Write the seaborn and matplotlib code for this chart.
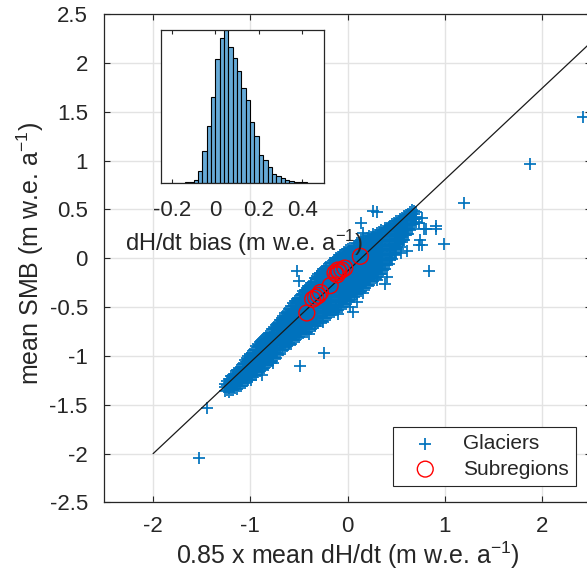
import numpy as np
import pandas as pd
import matplotlib
matplotlib.use("Agg")
import matplotlib.pyplot as plt
from matplotlib.ticker import FuncFormatter
import seaborn as sns

# ---------------- data ----------------
# dense glacier band: one column of y values per x position
band_x = [-1.26, -1.22, -1.18, -1.14, -1.10, -1.06, -1.02, -0.98, -0.94, -0.90,
          -0.86, -0.82, -0.78, -0.74, -0.70, -0.66, -0.62, -0.58, -0.54, -0.50,
          -0.46, -0.42, -0.38, -0.34, -0.30, -0.26, -0.22, -0.18, -0.14, -0.10,
          -0.06, -0.02, 0.02, 0.06, 0.10, 0.14, 0.18, 0.22, 0.26, 0.30,
          0.34, 0.38, 0.42, 0.46, 0.50, 0.54, 0.58, 0.62, 0.66, 0.70]
band_y = [
    [-1.36, -1.32, -1.29],
    [-1.37, -1.33, -1.28, -1.24],
    [-1.35, -1.31, -1.26, -1.22, -1.19],
    [-1.34, -1.29, -1.24, -1.19, -1.14],
    [-1.31, -1.26, -1.21, -1.16, -1.11],
    [-1.28, -1.23, -1.18, -1.13, -1.08, -1.04],
    [-1.25, -1.20, -1.15, -1.10, -1.05, -1.00],
    [-1.22, -1.17, -1.12, -1.07, -1.02, -0.97],
    [-1.19, -1.14, -1.09, -1.04, -0.99, -0.94, -0.90],
    [-1.15, -1.10, -1.05, -1.00, -0.95, -0.90, -0.86],
    [-1.12, -1.07, -1.02, -0.97, -0.92, -0.87, -0.82],
    [-1.09, -1.04, -0.99, -0.94, -0.89, -0.84, -0.78],
    [-1.05, -1.00, -0.95, -0.90, -0.85, -0.80, -0.76, -0.72],
    [-1.02, -0.97, -0.92, -0.87, -0.82, -0.77, -0.72, -0.68],
    [-0.98, -0.93, -0.88, -0.83, -0.78, -0.73, -0.68, -0.63],
    [-0.94, -0.89, -0.84, -0.79, -0.74, -0.69, -0.64, -0.59],
    [-0.90, -0.85, -0.80, -0.75, -0.70, -0.65, -0.60, -0.55],
    [-0.88, -0.83, -0.78, -0.73, -0.68, -0.63, -0.58, -0.53, -0.49],
    [-0.84, -0.79, -0.74, -0.69, -0.64, -0.59, -0.54, -0.49, -0.44],
    [-0.81, -0.76, -0.71, -0.66, -0.61, -0.56, -0.51, -0.46, -0.41],
    [-0.77, -0.72, -0.67, -0.62, -0.57, -0.52, -0.47, -0.42, -0.37, -0.34],
    [-0.75, -0.70, -0.65, -0.60, -0.55, -0.50, -0.45, -0.40, -0.35, -0.30],
    [-0.72, -0.67, -0.62, -0.57, -0.52, -0.47, -0.42, -0.37, -0.32, -0.27, -0.25],
    [-0.69, -0.64, -0.59, -0.54, -0.49, -0.44, -0.39, -0.34, -0.29, -0.24, -0.20],
    [-0.66, -0.61, -0.56, -0.51, -0.46, -0.41, -0.36, -0.31, -0.26, -0.21, -0.16],
    [-0.64, -0.59, -0.54, -0.49, -0.44, -0.39, -0.34, -0.29, -0.24, -0.19, -0.13],
    [-0.61, -0.56, -0.51, -0.46, -0.41, -0.36, -0.31, -0.26, -0.21, -0.16, -0.11, -0.09],
    [-0.58, -0.53, -0.48, -0.43, -0.38, -0.33, -0.28, -0.23, -0.18, -0.13, -0.08, -0.05],
    [-0.55, -0.50, -0.45, -0.40, -0.35, -0.30, -0.25, -0.20, -0.15, -0.10, -0.05, -0.02],
    [-0.53, -0.48, -0.43, -0.38, -0.33, -0.28, -0.23, -0.18, -0.13, -0.08, -0.03, 0.01],
    [-0.50, -0.45, -0.40, -0.35, -0.30, -0.25, -0.20, -0.15, -0.10, -0.05, 0.00, 0.04],
    [-0.47, -0.42, -0.37, -0.32, -0.27, -0.22, -0.17, -0.12, -0.07, -0.02, 0.03, 0.08],
    [-0.43, -0.38, -0.33, -0.28, -0.23, -0.18, -0.13, -0.08, -0.03, 0.02, 0.07, 0.11],
    [-0.40, -0.35, -0.30, -0.25, -0.20, -0.15, -0.10, -0.05, 0.00, 0.05, 0.10, 0.13],
    [-0.37, -0.32, -0.27, -0.22, -0.17, -0.12, -0.07, -0.02, 0.03, 0.08, 0.13, 0.16],
    [-0.33, -0.28, -0.23, -0.18, -0.13, -0.08, -0.03, 0.02, 0.07, 0.12, 0.17, 0.19],
    [-0.30, -0.25, -0.20, -0.15, -0.10, -0.05, 0.00, 0.05, 0.10, 0.15, 0.20],
    [-0.27, -0.22, -0.17, -0.12, -0.07, -0.02, 0.03, 0.08, 0.13, 0.18, 0.23],
    [-0.23, -0.18, -0.13, -0.08, -0.03, 0.02, 0.07, 0.12, 0.17, 0.22, 0.25],
    [-0.19, -0.14, -0.09, -0.04, 0.01, 0.06, 0.11, 0.16, 0.21, 0.26],
    [-0.16, -0.11, -0.06, -0.01, 0.04, 0.09, 0.14, 0.19, 0.24, 0.29],
    [-0.11, -0.06, -0.01, 0.04, 0.09, 0.14, 0.19, 0.24, 0.29, 0.31],
    [-0.06, -0.01, 0.04, 0.09, 0.14, 0.19, 0.24, 0.29, 0.32],
    [-0.01, 0.04, 0.09, 0.14, 0.19, 0.24, 0.29, 0.35],
    [0.05, 0.10, 0.15, 0.20, 0.25, 0.30, 0.35, 0.38],
    [0.12, 0.17, 0.22, 0.27, 0.32, 0.37, 0.40],
    [0.19, 0.24, 0.29, 0.34, 0.39, 0.43],
    [0.25, 0.30, 0.35, 0.40, 0.45],
    [0.30, 0.35, 0.40, 0.45, 0.49],
    [0.37, 0.42, 0.47],
]
# in-between columns of the same band
band2_x = [-1.24, -1.20, -1.16, -1.12, -1.08, -1.04, -1.00, -0.96, -0.92, -0.88,
           -0.84, -0.80, -0.76, -0.72, -0.68, -0.64, -0.60, -0.56, -0.52, -0.48,
           -0.44, -0.40, -0.36, -0.32, -0.28, -0.24, -0.20, -0.16, -0.12, -0.08,
           -0.04, 0.00, 0.04, 0.08, 0.12, 0.16, 0.20, 0.24, 0.28, 0.32,
           0.36, 0.40, 0.44, 0.48, 0.52, 0.56, 0.60, 0.64, 0.68]
band2_y = [
    [-1.35, -1.30, -1.26],
    [-1.35, -1.30, -1.25, -1.21],
    [-1.33, -1.28, -1.23, -1.18],
    [-1.31, -1.26, -1.21, -1.16, -1.12],
    [-1.28, -1.23, -1.18, -1.13, -1.08],
    [-1.26, -1.21, -1.16, -1.11, -1.06, -1.02],
    [-1.22, -1.17, -1.12, -1.07, -1.02, -0.98],
    [-1.19, -1.14, -1.09, -1.04, -0.99, -0.94],
    [-1.16, -1.11, -1.06, -1.01, -0.96, -0.91, -0.88],
    [-1.13, -1.08, -1.03, -0.98, -0.93, -0.88, -0.84],
    [-1.09, -1.04, -0.99, -0.94, -0.89, -0.84, -0.80],
    [-1.06, -1.01, -0.96, -0.91, -0.86, -0.81, -0.76],
    [-1.02, -0.97, -0.92, -0.87, -0.82, -0.77, -0.72, -0.70],
    [-0.98, -0.93, -0.88, -0.83, -0.78, -0.73, -0.68, -0.66],
    [-0.94, -0.89, -0.84, -0.79, -0.74, -0.69, -0.64, -0.61],
    [-0.91, -0.86, -0.81, -0.76, -0.71, -0.66, -0.61, -0.56],
    [-0.87, -0.82, -0.77, -0.72, -0.67, -0.62, -0.57, -0.52],
    [-0.84, -0.79, -0.74, -0.69, -0.64, -0.59, -0.54, -0.49, -0.46],
    [-0.81, -0.76, -0.71, -0.66, -0.61, -0.56, -0.51, -0.46, -0.42],
    [-0.78, -0.73, -0.68, -0.63, -0.58, -0.53, -0.48, -0.43, -0.38],
    [-0.75, -0.70, -0.65, -0.60, -0.55, -0.50, -0.45, -0.40, -0.35, -0.32],
    [-0.72, -0.67, -0.62, -0.57, -0.52, -0.47, -0.42, -0.37, -0.32, -0.28],
    [-0.69, -0.64, -0.59, -0.54, -0.49, -0.44, -0.39, -0.34, -0.29, -0.24],
    [-0.66, -0.61, -0.56, -0.51, -0.46, -0.41, -0.36, -0.31, -0.26, -0.21, -0.18],
    [-0.64, -0.59, -0.54, -0.49, -0.44, -0.39, -0.34, -0.29, -0.24, -0.19, -0.15],
    [-0.61, -0.56, -0.51, -0.46, -0.41, -0.36, -0.31, -0.26, -0.21, -0.16, -0.11],
    [-0.58, -0.53, -0.48, -0.43, -0.38, -0.33, -0.28, -0.23, -0.18, -0.13, -0.08],
    [-0.55, -0.50, -0.45, -0.40, -0.35, -0.30, -0.25, -0.20, -0.15, -0.10, -0.05],
    [-0.53, -0.48, -0.43, -0.38, -0.33, -0.28, -0.23, -0.18, -0.13, -0.08, -0.03, 0.00],
    [-0.50, -0.45, -0.40, -0.35, -0.30, -0.25, -0.20, -0.15, -0.10, -0.05, 0.00, 0.03],
    [-0.47, -0.42, -0.37, -0.32, -0.27, -0.22, -0.17, -0.12, -0.07, -0.02, 0.03, 0.06],
    [-0.44, -0.39, -0.34, -0.29, -0.24, -0.19, -0.14, -0.09, -0.04, 0.01, 0.06, 0.09],
    [-0.40, -0.35, -0.30, -0.25, -0.20, -0.15, -0.10, -0.05, 0.00, 0.05, 0.10],
    [-0.37, -0.32, -0.27, -0.22, -0.17, -0.12, -0.07, -0.02, 0.03, 0.08, 0.13],
    [-0.34, -0.29, -0.24, -0.19, -0.14, -0.09, -0.04, 0.01, 0.06, 0.11, 0.16],
    [-0.30, -0.25, -0.20, -0.15, -0.10, -0.05, 0.00, 0.05, 0.10, 0.15, 0.19],
    [-0.27, -0.22, -0.17, -0.12, -0.07, -0.02, 0.03, 0.08, 0.13, 0.18, 0.21],
    [-0.23, -0.18, -0.13, -0.08, -0.03, 0.02, 0.07, 0.12, 0.17, 0.22],
    [-0.20, -0.15, -0.10, -0.05, 0.00, 0.05, 0.10, 0.15, 0.20, 0.24],
    [-0.16, -0.11, -0.06, -0.01, 0.04, 0.09, 0.14, 0.19, 0.24, 0.27],
    [-0.12, -0.07, -0.02, 0.03, 0.08, 0.13, 0.18, 0.23, 0.28],
    [-0.07, -0.02, 0.03, 0.08, 0.13, 0.18, 0.23, 0.28, 0.31],
    [-0.02, 0.03, 0.08, 0.13, 0.18, 0.23, 0.28, 0.33],
    [0.04, 0.09, 0.14, 0.19, 0.24, 0.29, 0.34, 0.36],
    [0.10, 0.15, 0.20, 0.25, 0.30, 0.35, 0.38],
    [0.17, 0.22, 0.27, 0.32, 0.37, 0.41],
    [0.24, 0.29, 0.34, 0.39, 0.44],
    [0.29, 0.34, 0.39, 0.44, 0.47],
    [0.35, 0.40, 0.45, 0.48],
]

# scattered glaciers outside the dense band
outlier_x = [2.42, 1.87, 1.20, 0.76, 0.78, 0.81, 0.91, 0.91, 0.76, 0.99,
             0.84, 0.30, 0.26, 0.14, 0.16, -0.52, -0.50, 0.05, -0.10, -0.24,
             -0.49, -0.77, -0.88, -1.16, -1.53, -1.45, 0.40, 0.38, 0.16, 0.55,
             0.69, 0.73, 0.74, 0.57, 0.61, 0.49, 0.49, 0.73, 0.30, 0.23,
             -0.25, -0.34, -0.99, -0.90, -0.80, -1.00, -1.12, -0.68, -0.99, 0.45,
             0.02, -0.12, 0.10, -0.60, -0.40]
outlier_y = [1.45, 0.97, 0.57, 0.41, 0.30, 0.30, 0.30, 0.33, 0.14, 0.15,
             -0.13, 0.47, 0.48, 0.36, 0.26, -0.13, -0.23, -0.55, -0.57, -0.97,
             -1.10, -1.07, -1.19, -1.28, -2.04, -1.53, -0.19, -0.26, -0.36, 0.05,
             0.40, 0.36, 0.19, 0.19, 0.07, 0.12, 0.03, 0.14, -0.22, -0.17,
             -0.65, -0.68, -1.09, -1.04, -0.97, -1.18, -1.25, -0.85, -1.25, 0.00,
             -0.50, -0.52, -0.45, -0.88, -0.78]

# subregion means
sub_x = [0.13, -0.03, -0.06, -0.09, -0.11, -0.13, -0.10, -0.18, -0.28, -0.30, -0.33, -0.36, -0.42]
sub_y = [0.02, -0.10, -0.12, -0.14, -0.17, -0.15, -0.12, -0.28, -0.35, -0.38, -0.40, -0.42, -0.56]

# reference line end points
line_x = [-2.0, 2.5]
line_y = [-2.0, 2.21]

# inset histogram of dH/dt bias
hist_centers = [-0.23, -0.21, -0.19, -0.17, -0.15, -0.13, -0.11, -0.09, -0.07, -0.05,
                -0.03, -0.01, 0.01, 0.03, 0.05, 0.07, 0.09, 0.11, 0.13, 0.15,
                0.17, 0.19, 0.21, 0.23, 0.25, 0.27, 0.29, 0.31, 0.33, 0.35,
                0.37, 0.39, 0.41, 0.43, 0.45, 0.47, 0.49]
hist_counts = [1, 1, 2, 2, 3, 4, 7, 17, 80, 210,
               370, 560, 810, 950, 1000, 890, 820, 730, 620, 540,
               400, 310, 180, 150, 105, 61, 48, 35, 17, 11,
               7, 6, 4, 3, 2, 1, 1]
hist_edges = [-0.24, -0.22, -0.20, -0.18, -0.16, -0.14, -0.12, -0.10, -0.08, -0.06,
              -0.04, -0.02, 0.00, 0.02, 0.04, 0.06, 0.08, 0.10, 0.12, 0.14,
              0.16, 0.18, 0.20, 0.22, 0.24, 0.26, 0.28, 0.30, 0.32, 0.34,
              0.36, 0.38, 0.40, 0.42, 0.44, 0.46, 0.48, 0.50]

main_xticks = [-2, -1, 0, 1, 2]
main_yticks = [-2.5, -2, -1.5, -1, -0.5, 0, 0.5, 1, 1.5, 2, 2.5]
inset_xticks = [-0.2, 0, 0.2, 0.4]

# ---------------- style ----------------
sns.set_style("ticks")
plt.rcParams['font.family'] = ['Liberation Sans', 'DejaVu Sans']
plt.rcParams['mathtext.default'] = 'regular'
plt.rcParams['axes.unicode_minus'] = False

AX = '#262626'
BLUE = '#0072BD'
GRID = '#e3e3e3'
TICK_FS = 16
LABEL_FS = 18

gx, gy = [], []
for xs, yss in ((band_x, band_y), (band2_x, band2_y)):
    for xc, ys in zip(xs, yss):
        for yv in ys:
            gx.append(xc)
            gy.append(yv)
gx += outlier_x
gy += outlier_y
glaciers = pd.DataFrame({"x": gx, "y": gy})
subs = pd.DataFrame({"x": sub_x, "y": sub_y})
line_df = pd.DataFrame({"x": line_x, "y": line_y})

fig = plt.figure(figsize=(5.87, 5.87), dpi=100)
ax = fig.add_axes([0.178, 0.144, 0.8286, 0.832])

sns.scatterplot(data=glaciers, x="x", y="y", marker="+", s=80, color=BLUE,
                linewidth=1.25, ax=ax, zorder=3)
gcoll = ax.collections[-1]
gcoll.set_facecolor(BLUE)
gcoll.set_edgecolor(BLUE)

sns.lineplot(data=line_df, x="x", y="y", color='#1a1a1a', linewidth=0.9, ax=ax,
             zorder=4, sort=False)

sns.scatterplot(data=subs, x="x", y="y", marker="o", s=130, ax=ax, zorder=5, color='red')
scoll = ax.collections[-1]
scoll.set_facecolor('none')
scoll.set_edgecolor('#ff0000')
scoll.set_linewidth(1.0)

ax.set_xlim(-2.5, 2.5)
ax.set_ylim(-2.5, 2.5)
ax.set_xticks(main_xticks)
ax.set_yticks(main_yticks)
fmt = FuncFormatter(lambda v, p: '%g' % v)
ax.xaxis.set_major_formatter(fmt)
ax.yaxis.set_major_formatter(fmt)
ax.grid(True, color=GRID, linewidth=1.0)
ax.set_axisbelow(True)
for s in ax.spines.values():
    s.set_color(AX)
    s.set_linewidth(0.9)
ax.tick_params(direction='in', length=4, width=0.8, colors=AX, labelsize=TICK_FS,
               top=True, right=True)
ax.tick_params(axis='x', pad=10)
ax.tick_params(axis='y', pad=12)

ax.set_xlabel('0.85 x mean dH/dt (m w.e. a$^{-1}$)', fontsize=LABEL_FS, color=AX)
ax.set_ylabel('mean SMB (m w.e. a$^{-1}$)', fontsize=LABEL_FS, color=AX)
ax.xaxis.label.set_va('center')
ax.xaxis.set_label_coords(0.5, -0.108)
ax.yaxis.label.set_va('center')
ax.yaxis.set_label_coords(-0.153, 0.51)

leg = ax.legend([gcoll, scoll], ['Glaciers', 'Subregions'], loc='lower right',
                bbox_to_anchor=(0.969, 0.034), borderaxespad=0, fontsize=15,
                frameon=True, fancybox=False, framealpha=1, edgecolor=AX,
                scatterpoints=1, handlelength=2.4, handletextpad=0.6,
                borderpad=0.35, labelspacing=0.3)
leg.get_frame().set_linewidth(0.8)

# ---------------- inset ----------------
ins = fig.add_axes([0.2743, 0.6882, 0.2777, 0.2606])
ins.set_facecolor('white')
sns.histplot(x=hist_centers, weights=hist_counts, bins=hist_edges, ax=ins,
             color='#66aad7', edgecolor='black', linewidth=0.8, alpha=1)
ins.set_xlim(-0.25, 0.5)
ins.set_ylim(0, 1000)
ins.set_xticks(inset_xticks)
ins.xaxis.set_major_formatter(fmt)
ins.set_yticks([])
ins.set_ylabel('')
for s in ins.spines.values():
    s.set_color(AX)
    s.set_linewidth(0.9)
    s.set_visible(True)
ins.tick_params(direction='in', length=3, width=0.8, colors=AX, labelsize=TICK_FS,
                top=True, pad=12)
ins.set_xlabel('dH/dt bias (m w.e. a$^{-1}$)', fontsize=17, color=AX)
ins.xaxis.label.set_va('center')
ins.xaxis.set_label_coords(0.51, -0.392)

fig.savefig('out.png', dpi=100)
